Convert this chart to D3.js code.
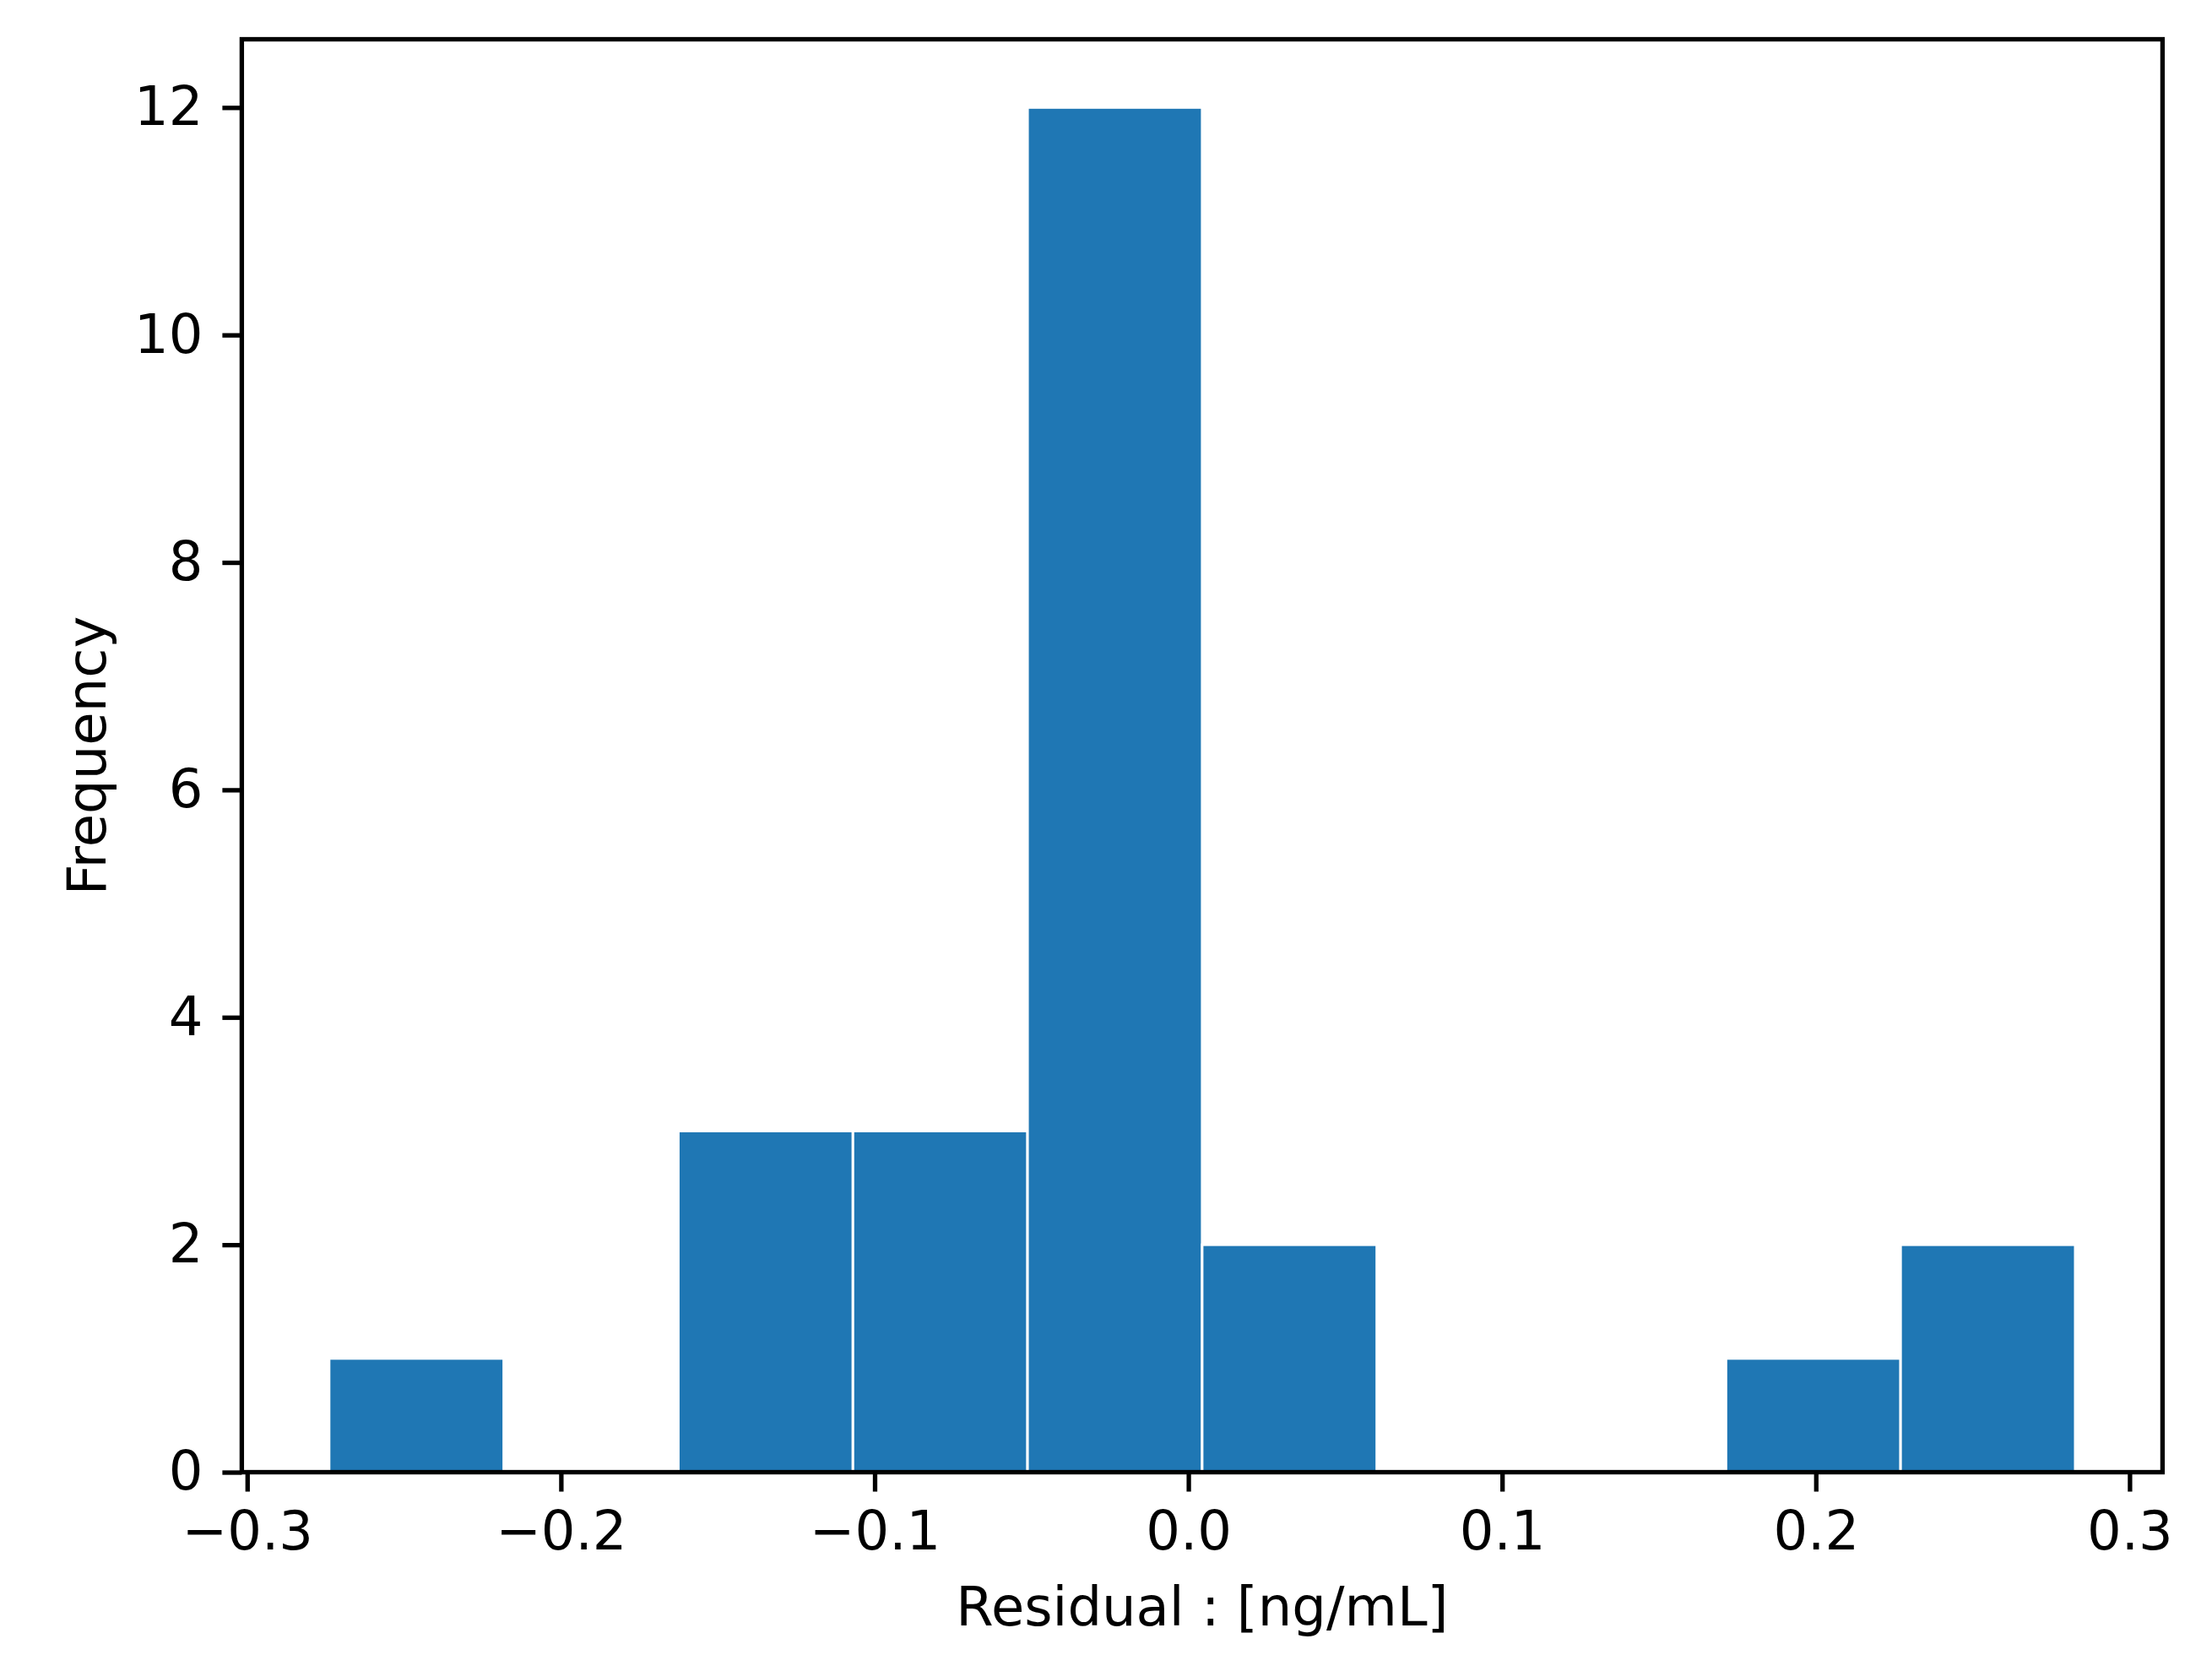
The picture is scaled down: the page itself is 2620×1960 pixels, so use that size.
<!DOCTYPE html>
<html>
<head>
<meta charset="utf-8">
<script src="https://cdn.jsdelivr.net/npm/d3@7"></script>
<style>
  body { margin: 0; background: #fff; }
  svg { display: block; font-family: "DejaVu Sans", sans-serif; }
</style>
</head>
<body>
<div id="chart"></div>
<script>
// histogram of residuals, 10 bins
var binEdges = [-0.27389, -0.21823, -0.16258, -0.10692, -0.05127, 0.00439, 0.06004, 0.11570, 0.17135, 0.22701, 0.28267];
var binCounts = [1, 0, 3, 3, 12, 2, 0, 0, 1, 2];
var xTicks = [-0.3, -0.2, -0.1, 0.0, 0.1, 0.2, 0.3];
var yTicks = [0, 2, 4, 6, 8, 10, 12];
var xTitle = "Residual : [ng/mL]";
var yTitle = "Frequency";

var W = 2620, H = 1960;
// plot area (note: "top" is taken by window.top, so use a box object)
var box = { left: 286.4, right: 2561.4, top: 46.5, bottom: 1743.5 };
var fontPx = 64, lw = 5.3, tickLen = 23, pad = 23;

var bins = binCounts.map(function(c, i) { return { x0: binEdges[i], x1: binEdges[i + 1], n: c }; });

var svg = d3.select("#chart").append("svg")
  .attr("width", W).attr("height", H);
svg.append("rect").attr("width", W).attr("height", H).attr("fill", "#fff");

// matplotlib style 5% margins
var lo = d3.min(binEdges), hi = d3.max(binEdges), span = hi - lo;
var x = d3.scaleLinear().domain([lo - 0.05 * span, hi + 0.05 * span]).range([box.left, box.right]);
var ymax = d3.max(binCounts);
var y = d3.scaleLinear().domain([0, ymax * 1.05]).range([box.bottom, box.top]);

svg.append("g").selectAll("rect")
  .data(bins.filter(function(d) { return d.n > 0; }))
  .enter().append("rect")
    .attr("x", function(d) { return x(d.x0); })
    .attr("y", function(d) { return y(d.n); })
    .attr("width", function(d) { return x(d.x1) - x(d.x0); })
    .attr("height", function(d) { return y(0) - y(d.n); })
    .attr("fill", "#1f77b4")
    .attr("stroke", "#fff")
    .attr("stroke-width", 3);

// frame
svg.append("rect")
  .attr("x", box.left).attr("y", box.top)
  .attr("width", box.right - box.left).attr("height", box.bottom - box.top)
  .attr("fill", "none").attr("stroke", "#000").attr("stroke-width", lw);

var fmt = d3.format(".1f");
var gx = svg.append("g")
  .attr("transform", "translate(0," + box.bottom + ")")
  .call(d3.axisBottom(x).tickValues(xTicks).tickFormat(fmt).tickSize(tickLen).tickPadding(pad));
var gy = svg.append("g")
  .attr("transform", "translate(" + box.left + ",0)")
  .call(d3.axisLeft(y).tickValues(yTicks).tickFormat(d3.format("d")).tickSize(tickLen).tickPadding(pad));

[gx, gy].forEach(function(g) {
  g.select(".domain").remove();
  g.selectAll(".tick line").attr("stroke", "#000").attr("stroke-width", lw);
  g.selectAll(".tick text").attr("fill", "#000").style("font-size", fontPx + "px")
    .style("font-family", "'DejaVu Sans', sans-serif");
});

svg.append("text")
  .attr("x", (box.left + box.right) / 2).attr("y", 1925)
  .attr("text-anchor", "middle")
  .style("font-size", fontPx + "px")
  .text(xTitle);

svg.append("text")
  .attr("transform", "translate(125," + (box.top + box.bottom) / 2 + ") rotate(-90)")
  .attr("text-anchor", "middle")
  .style("font-size", fontPx + "px")
  .text(yTitle);
</script>
</body>
</html>
